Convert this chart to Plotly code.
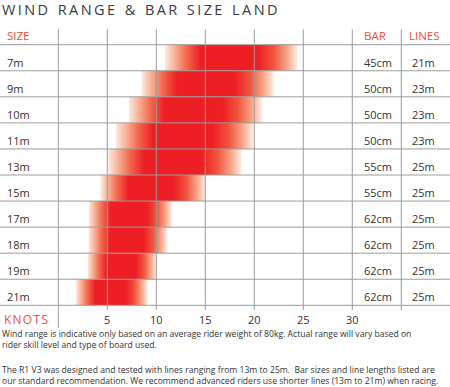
import plotly.graph_objects as go

# ---------------- data ----------------
sizes = ['7m', '9m', '10m', '11m', '13m', '15m', '17m', '18m', '19m', '21m']
wind_min = [10.9, 8.5, 7.2, 5.9, 5.1, 4.3, 3.1, 3.1, 3.0, 1.8]
wind_max = [24.4, 22.0, 20.8, 19.9, 18.7, 15.0, 11.6, 11.1, 10.0, 9.1]
bar_sizes = ['45cm', '50cm', '50cm', '50cm', '55cm', '55cm', '62cm', '62cm', '62cm', '62cm']
line_lengths = ['21m', '23m', '23m', '23m', '25m', '25m', '25m', '25m', '25m', '25m']
knot_ticks = [5, 10, 15, 20, 25, 30]
grid_x = [0, 5, 10, 15, 20, 25, 30, 35]   # column boundaries (knots)
bar_col = 30     # BAR column starts at this x
lines_col = 35   # LINES column starts at this x

title = 'WIND RANGE & BAR SIZE LAND'
footer = [
    'Wind range is indicative only based on an average rider weight of 80kg. Actual range will vary based on',
    'rider skill level and type of board used.',
    '',
    'The R1 V3 was designed and tested with lines ranging from 13m to 25m.  Bar sizes and line lengths listed are',
    'our standard recommendation. We recommend advanced riders use shorter lines (13m to 21m) when racing.',
]

# ---------------- style ----------------
W, H = 450, 387
PX_X0 = 58.3          # pixel of 0 knots
PX_PER_KNOT = 9.8
ROW_PX = 26.06
ROW0_PX = 57.73       # pixel centre of first row

def kx(px):
    return (px - PX_X0) / PX_PER_KNOT

def ry(py):
    return (py - ROW0_PX) / ROW_PX

RED_TXT = '#F04E37'
TXT = '#333333'
GRID = '#9c9c9c'
FONT = 'Open Sans'

def spaced(s, sep='\u2009', wsep='\u2002'):
    words = s.split(' ')
    return (wsep + sep).join(sep.join(list(w)) for w in words)

grad = [
    [0.0, 'rgb(253,232,222)'],
    [0.07, 'rgb(248,180,155)'],
    [0.16, 'rgb(242,105,78)'],
    [0.27, 'rgb(237,30,36)'],
    [0.70, 'rgb(237,30,36)'],
    [0.82, 'rgb(240,85,62)'],
    [0.92, 'rgb(247,165,135)'],
    [1.0, 'rgb(254,238,230)'],
]

fig = go.Figure()

for i, (lo, hi) in enumerate(zip(wind_min, wind_max)):
    fig.add_trace(go.Scatter(
        x=[lo, hi, hi, lo, lo],
        y=[i - 0.5, i - 0.5, i + 0.5, i + 0.5, i - 0.5],
        mode='lines', line=dict(width=0),
        fill='toself',
        fillgradient=dict(type='horizontal', colorscale=grad),
        hoverinfo='skip', showlegend=False,
    ))

shapes = []
n = len(sizes)
# horizontal row lines
for k in range(n + 1):
    shapes.append(dict(type='line', xref='paper', yref='y', x0=0, x1=1,
                       y0=k - 0.5, y1=k - 0.5, layer='above',
                       line=dict(color=GRID, width=1)))
# vertical column lines
for gx in grid_x:
    y_bottom = ry(328) if gx == 0 else ry(310)
    shapes.append(dict(type='line', xref='x', yref='y', x0=gx, x1=gx,
                       y0=ry(29.3), y1=y_bottom, layer='above',
                       line=dict(color=GRID, width=1)))

ann = []
ann.append(dict(xref='paper', yref='y', x=0, y=ry(9.5), xanchor='left', yanchor='middle',
                text=spaced(title), showarrow=False,
                font=dict(family=FONT, size=14.5, color='#3a3a3a')))
# headers
for txt, px in [('SIZE', 4.5), ('BAR', 361.5), ('LINES', 406.5)]:
    ann.append(dict(xref='x', yref='y', x=kx(px), y=ry(35.5), xanchor='left', yanchor='middle',
                    text=txt, showarrow=False,
                    font=dict(family=FONT, size=11.5, color=RED_TXT)))
# rows
for i in range(n):
    yy = i + 0.17
    ann.append(dict(xref='x', yref='y', x=kx(4.5), y=yy, xanchor='left', yanchor='middle',
                    text=sizes[i], showarrow=False, font=dict(family=FONT, size=11, color=TXT)))
    ann.append(dict(xref='x', yref='y', x=bar_col + 0.95, y=yy, xanchor='left', yanchor='middle',
                    text=bar_sizes[i], showarrow=False, font=dict(family=FONT, size=11, color=TXT)))
    ann.append(dict(xref='x', yref='y', x=lines_col + 0.9, y=yy, xanchor='left', yanchor='middle',
                    text=line_lengths[i], showarrow=False, font=dict(family=FONT, size=11, color=TXT)))
# knots row
ann.append(dict(xref='x', yref='y', x=kx(1.5), y=ry(319), xanchor='left', yanchor='middle',
                text=spaced('KNOTS', '\u200a'), showarrow=False,
                font=dict(family=FONT, size=12, color=RED_TXT)))
for t in knot_ticks:
    ann.append(dict(xref='x', yref='y', x=t, y=ry(319), xanchor='center', yanchor='middle',
                    text=str(t), showarrow=False, font=dict(family=FONT, size=11, color=TXT)))
# footer
foot_px = [333.5, 344.8, 357.6, 369.8, 381.3]
for line, py in zip(footer, foot_px):
    if line:
        ann.append(dict(xref='paper', yref='y', x=0, y=ry(py), xanchor='left', yanchor='middle',
                        text=line, showarrow=False, font=dict(family=FONT, size=8.6, color=TXT)))

fig.update_layout(
    width=W, height=H, autosize=False,
    margin=dict(l=0, r=0, t=0, b=0),
    paper_bgcolor='white', plot_bgcolor='white',
    xaxis=dict(range=[kx(0), kx(W)], visible=False, fixedrange=True),
    yaxis=dict(range=[ry(H), ry(0)], visible=False, fixedrange=True),
    shapes=shapes, annotations=ann, showlegend=False,
)

fig.write_html('out.html', config={'displayModeBar': False},
               post_script="document.body.style.margin='0';document.body.style.overflow='hidden';")
